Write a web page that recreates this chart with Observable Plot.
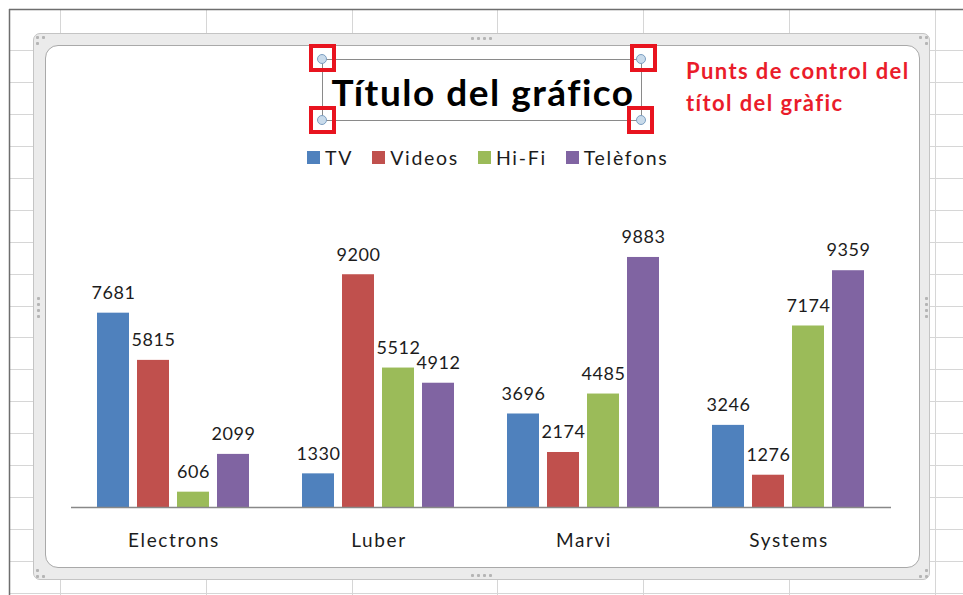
<!DOCTYPE html>
<html>
<head>
<meta charset="utf-8">
<script src="https://cdn.jsdelivr.net/npm/d3@7"></script>
<script src="https://cdn.jsdelivr.net/npm/@observablehq/plot@0.6"></script>
<style>
  html, body { margin: 0; padding: 0; background: #fff; }
  #page { position: relative; width: 963px; height: 595px; overflow: hidden; font-family: Lato, "Open Sans", sans-serif; }
  .abs { position: absolute; }
  #frameOuter { left: 33px; top: 33px; width: 895px; height: 545px; background: #ebebeb; border: 1px solid #c4c4c4; border-radius: 7px; }
  #frameInner { left: 45px; top: 45px; width: 873px; height: 521px; background: #fff; border: 1px solid #a9a9a9; border-radius: 13px; }
  .dot { position: absolute; width: 3px; height: 3px; background: #b5b5b5; border-radius: 1px; }
  #titleBox { left: 322px; top: 59px; width: 318px; height: 60px; border: 1px solid #8a8a8a; display: flex; align-items: center; justify-content: center; }
  #titleText { font-family: Lato, sans-serif; font-weight: 700; font-size: 37px; letter-spacing: 1.5px; color: #000; line-height: 1; margin-top: 3px; margin-left: 2px; }
  .handle { position: absolute; width: 10px; height: 10px; border-radius: 50%; background: #c9dbeb; border: 1px solid #7d9fc2; box-sizing: border-box; }
  .redsq { position: absolute; width: 27px; height: 28px; border: 4px solid #e8141f; box-sizing: border-box; }
  #note { left: 686px; top: 55px; color: #ea1c2a; font-family: Lato, sans-serif; font-weight: 700; font-size: 22px; letter-spacing: 1.4px; line-height: 32px; }
  #legend { left: 307px; top: 146px; display: flex; align-items: center; font-family: Lato, sans-serif; font-size: 19.5px; letter-spacing: 1.7px; color: #1c1c1c; }
  .litem { display: flex; align-items: center; margin-right: 19px; }
  .lsw { width: 13px; height: 13px; margin-right: 5px; }
</style>
</head>
<body>
<div id="page"></div>
<script>
// ---- data ----
const categories = ["Electrons", "Luber", "Marvi", "Systems"];
const series = ["TV", "Videos", "Hi-Fi", "Telèfons"];
const tv = [7681, 1330, 3696, 3246];
const videos = [5815, 9200, 2174, 1276];
const hifi = [606, 5512, 4485, 7174];
const telefons = [2099, 4912, 9883, 9359];
const seriesColors = ["#4F81BD", "#C0504D", "#9BBB59", "#8064A2"];
const chartTitle = "Título del gráfico";
const noteLines = ["Punts de control del", "títol del gràfic"];

const valuesBySeries = [tv, videos, hifi, telefons];
const data = [];
categories.forEach((c, i) => {
  series.forEach((s, j) => data.push({category: c, series: s, value: valuesBySeries[j][i]}));
});

const page = document.getElementById("page");

// ---- spreadsheet grid background ----
const grid = d3.select(page).append("svg").attr("class", "abs")
  .attr("width", 963).attr("height", 595).style("left", 0).style("top", 0);
const colLines = [60, 206, 352, 497, 643, 789, 935];
colLines.forEach(x => grid.append("line").attr("x1", x + 0.5).attr("x2", x + 0.5).attr("y1", 10).attr("y2", 595).attr("stroke", "#d6d6d6"));
for (let k = 0; k <= 17; k++) {
  const y = Math.round(50 + k * 31.94) + 0.5;
  grid.append("line").attr("x1", 9).attr("x2", 963).attr("y1", y).attr("y2", y).attr("stroke", "#d6d6d6");
}
grid.append("line").attr("x1", 9).attr("x2", 963).attr("y1", 9.5).attr("y2", 9.5).attr("stroke", "#6e6e6e").attr("stroke-width", 1.5);
grid.append("line").attr("x1", 9.5).attr("x2", 9.5).attr("y1", 9).attr("y2", 595).attr("stroke", "#6e6e6e").attr("stroke-width", 1.5);

// ---- chart frame ----
function addDiv(id, cls) { const d = document.createElement("div"); if (id) d.id = id; d.className = cls || "abs"; page.appendChild(d); return d; }
addDiv("frameOuter");
addDiv("frameInner");
function dot(x, y) { const d = addDiv(null, "dot"); d.style.left = x + "px"; d.style.top = y + "px"; }
[[36,36],[42,36],[36,42]].forEach(([x,y]) => dot(x, y));
[[919,36],[925,36],[925,42]].forEach(([x,y]) => dot(x, y));
[[36,575],[42,575],[36,569]].forEach(([x,y]) => dot(x, y));
[[919,575],[925,575],[925,569]].forEach(([x,y]) => dot(x, y));
[471, 477, 483, 489].forEach(x => { dot(x, 37); dot(x, 574); });
[297, 303, 309, 315].forEach(y => { dot(37, y); dot(925, y); });

// ---- title box with control points ----
const tb = addDiv("titleBox");
const tt = document.createElement("div"); tt.id = "titleText"; tt.textContent = chartTitle; tb.appendChild(tt);
[[322,59],[641,59],[322,120],[641,120]].forEach(([cx,cy]) => {
  const h = addDiv(null, "handle"); h.style.left = (cx - 5) + "px"; h.style.top = (cy - 5) + "px";
});
[[309,44],[630,44],[309,106],[627,106]].forEach(([x,y]) => {
  const r = addDiv(null, "redsq"); r.style.left = x + "px"; r.style.top = y + "px";
});
const note = addDiv("note");
note.innerHTML = noteLines.join("<br>");

// ---- legend ----
const legend = addDiv("legend");
series.forEach((s, j) => {
  const it = document.createElement("div"); it.className = "litem";
  const sw = document.createElement("div"); sw.className = "lsw"; sw.style.background = seriesColors[j];
  const lb = document.createElement("span"); lb.textContent = s;
  it.appendChild(sw); it.appendChild(lb); legend.appendChild(it);
});

// ---- chart ----
const chart = Plot.plot({
  width: 870,
  height: 370,
  marginLeft: 25,
  marginRight: 22,
  marginTop: 54,
  marginBottom: 63,
  style: {fontFamily: "Lato, sans-serif", fontSize: "19px", letterSpacing: "1.6px", color: "#1c1c1c", background: "transparent"},
  fx: {domain: categories, paddingInner: 0.242, paddingOuter: 0.121, label: null, axis: "bottom", tickSize: 0, tickPadding: 26},
  x: {domain: series, paddingInner: 0.195, paddingOuter: 0, axis: null},
  y: {domain: [0, 10000], axis: null},
  color: {domain: series, range: seriesColors},
  marks: [
    Plot.barY(data, {fx: "category", x: "series", y: "value", fill: "series"}),
    Plot.text(data, {fx: "category", x: "series", y: "value", text: d => String(d.value), dy: -20, fontSize: 18, fill: "#1c1c1c"}),
    Plot.ruleY([0], {insetLeft: -25, insetRight: -25, stroke: "#888888", strokeWidth: 1.5})
  ]
});
// data labels: tighter spacing than the axis labels
d3.select(chart).selectAll('g[aria-label="text"]').style("letter-spacing", "0.6px");
chart.style.position = "absolute";
chart.style.left = "45px";
chart.style.top = "200px";
page.appendChild(chart);
</script>
</body>
</html>
